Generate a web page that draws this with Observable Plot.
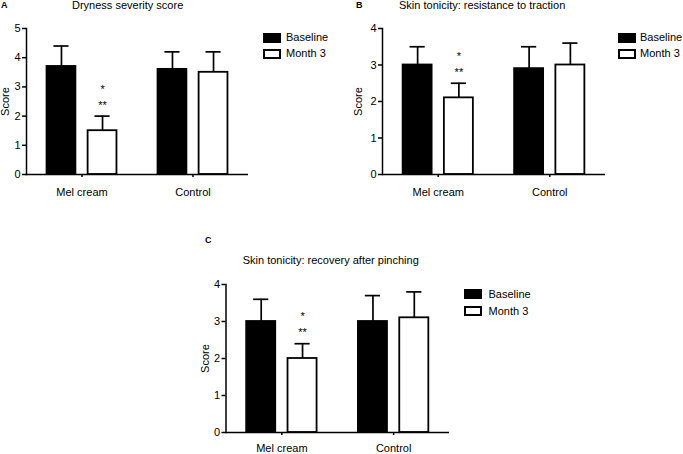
<!DOCTYPE html>
<html><head><meta charset="utf-8">
<script src="https://cdn.jsdelivr.net/npm/d3@7"></script>
<script src="https://cdn.jsdelivr.net/npm/@observablehq/plot@0.6"></script>
<style>
html,body{margin:0;padding:0;background:#fff;overflow:hidden}
#root{position:relative;width:683px;height:454px;font-family:"Liberation Sans",Arial,sans-serif;color:#000}
.abs{position:absolute;white-space:nowrap}
.t{font-size:11px;line-height:11px}
.letter{font-size:9px;line-height:9px;font-weight:bold}
.sw{position:absolute;box-sizing:border-box;width:18px;height:10px;border:2px solid #000}
svg{position:absolute;overflow:visible}
</style></head><body><div id="root"></div>
<script>
// ---------- data ----------
const groups = ["Mel cream", "Control"];
const series = ["Baseline", "Month 3"];
const titles = ["Dryness severity score", "Skin tonicity: resistance to traction", "Skin tonicity: recovery after pinching"];
const letters = ["A", "B", "C"];
const yTicksA = [0, 1, 2, 3, 4, 5];
const yTicksB = [0, 1, 2, 3, 4];
const yTicksC = [0, 1, 2, 3, 4];
// order: Mel cream Baseline, Mel cream Month 3, Control Baseline, Control Month 3
const meanA = [3.7, 1.5, 3.6, 3.5];
const sdA   = [0.7, 0.5, 0.6, 0.7];
const meanB = [3.0, 2.1, 2.9, 3.0];
const sdB   = [0.5, 0.4, 0.6, 0.6];
const meanC = [3.0, 2.0, 3.0, 3.1];
const sdC   = [0.6, 0.4, 0.7, 0.7];
const signifGroup = "Mel cream";
const signifSeries = "Month 3";
const signifLabels = ["*", "**"];

// ---------- layout (styles only) ----------
const layouts = [
  {left: 0,   top: 0,   width: 250, height: 204, mL: 26,   mR: 2, mT: 28, mB: 30, labelOffset: 25, xPad: 10.5,
   title: [72, 0], letter: [1, 0.5], legend: [263, 33, 286, 32, 48.5, 48]},
  {left: 340, top: 0,   width: 270, height: 204, mL: 42,   mR: 5, mT: 28, mB: 30, labelOffset: 28, xPad: 10.5,
   title: [399, 0], letter: [356, 0.5], legend: [618, 33, 640, 32, 49, 48]},
  {left: 180, top: 250, width: 275, height: 204, mL: 45.5, mR: 6, mT: 34, mB: 22, labelOffset: 24.5, xPad: 9,
   title: [242.7, 255.3], letter: [205, 235.5], legend: [463.5, 289, 488.5, 289, 306, 305.5]}
];

const panels = [
  {means: meanA, sds: sdA, ticks: yTicksA},
  {means: meanB, sds: sdB, ticks: yTicksB},
  {means: meanC, sds: sdC, ticks: yTicksC}
];

const root = document.getElementById("root");
const OFF = 0.185, HALF = 0.13, CAP = 0.068;
const xc = d => d.gi + (d.si - 0.5) * 2 * OFF;

function addDiv(cls, x, y, text) {
  const el = document.createElement("div");
  el.className = cls;
  el.style.left = x + "px";
  el.style.top = y + "px";
  if (text != null) el.textContent = text;
  root.appendChild(el);
  return el;
}

panels.forEach((p, k) => {
  const L = layouts[k];
  const rows = groups.flatMap((g, gi) => series.map((s, si) => ({
    group: g, series: s, gi, si, value: p.means[gi * 2 + si], sd: p.sds[gi * 2 + si]
  })));
  const sig = rows.filter(d => d.group === signifGroup && d.series === signifSeries);
  const yMax = p.ticks[p.ticks.length - 1];

  const chart = Plot.plot({
    width: L.width, height: L.height,
    marginLeft: L.mL, marginRight: L.mR, marginTop: L.mT, marginBottom: L.mB,
    style: {fontFamily: '"Liberation Sans", Arial, sans-serif', fontSize: "11px", background: "transparent", color: "#000"},
    x: {domain: [-0.5, 1.5], axis: null},
    y: {domain: [0, yMax]},
    color: {domain: series, range: ["#000", "#fff"]},
    marks: [
      Plot.axisY({ticks: p.ticks, tickFormat: d3.format("d"), tickSize: 4, tickPadding: 2, strokeWidth: 1.5, fontSize: 11,
                  fill: "#000", stroke: "#000",
                  label: "Score", labelAnchor: "center", labelArrow: "none", labelOffset: L.labelOffset}),
      Plot.axisX({ticks: [0, 1], tickFormat: i => groups[i], tickSize: 3, tickPadding: L.xPad,
                  strokeWidth: 1.5, fontSize: 11, fill: "#000", stroke: "#000", label: null}),
      Plot.ruleX(rows, {x: xc, y1: d => d.value, y2: d => d.value + d.sd, stroke: "#000", strokeWidth: 1.7}),
      Plot.ruleY(rows, {y: d => d.value + d.sd, x1: d => xc(d) - CAP, x2: d => xc(d) + CAP, stroke: "#000", strokeWidth: 1.7}),
      Plot.rectY(rows, {x1: d => xc(d) - HALF, x2: d => xc(d) + HALF, y1: 0, y2: "value",
                        fill: "series", stroke: "#000", strokeWidth: 1.8}),
      Plot.frame({anchor: "left", stroke: "#000", strokeWidth: 1.5}),
      Plot.ruleY([0], {stroke: "#000", strokeWidth: 1.5}),
      Plot.text(sig, {x: xc, y: d => d.value + d.sd, text: () => signifLabels[0], dy: -27, fontSize: 11, fill: "#000"}),
      Plot.text(sig, {x: xc, y: d => d.value + d.sd, text: () => signifLabels[1], dy: -11, fontSize: 11, fill: "#000"})
    ]
  });
  chart.style.left = L.left + "px";
  chart.style.top = L.top + "px";
  root.appendChild(chart);

  addDiv("abs t", L.title[0], L.title[1], titles[k]);
  addDiv("abs letter", L.letter[0], L.letter[1], letters[k]);
  const [sx, sy, tx, ty, sy2, ty2] = L.legend;
  const s1 = addDiv("sw", sx, sy); s1.style.background = "#000";
  addDiv("abs t", tx, ty, series[0]);
  const s2 = addDiv("sw", sx, sy2); s2.style.background = "#fff";
  addDiv("abs t", tx, ty2, series[1]);
});
</script></body></html>
